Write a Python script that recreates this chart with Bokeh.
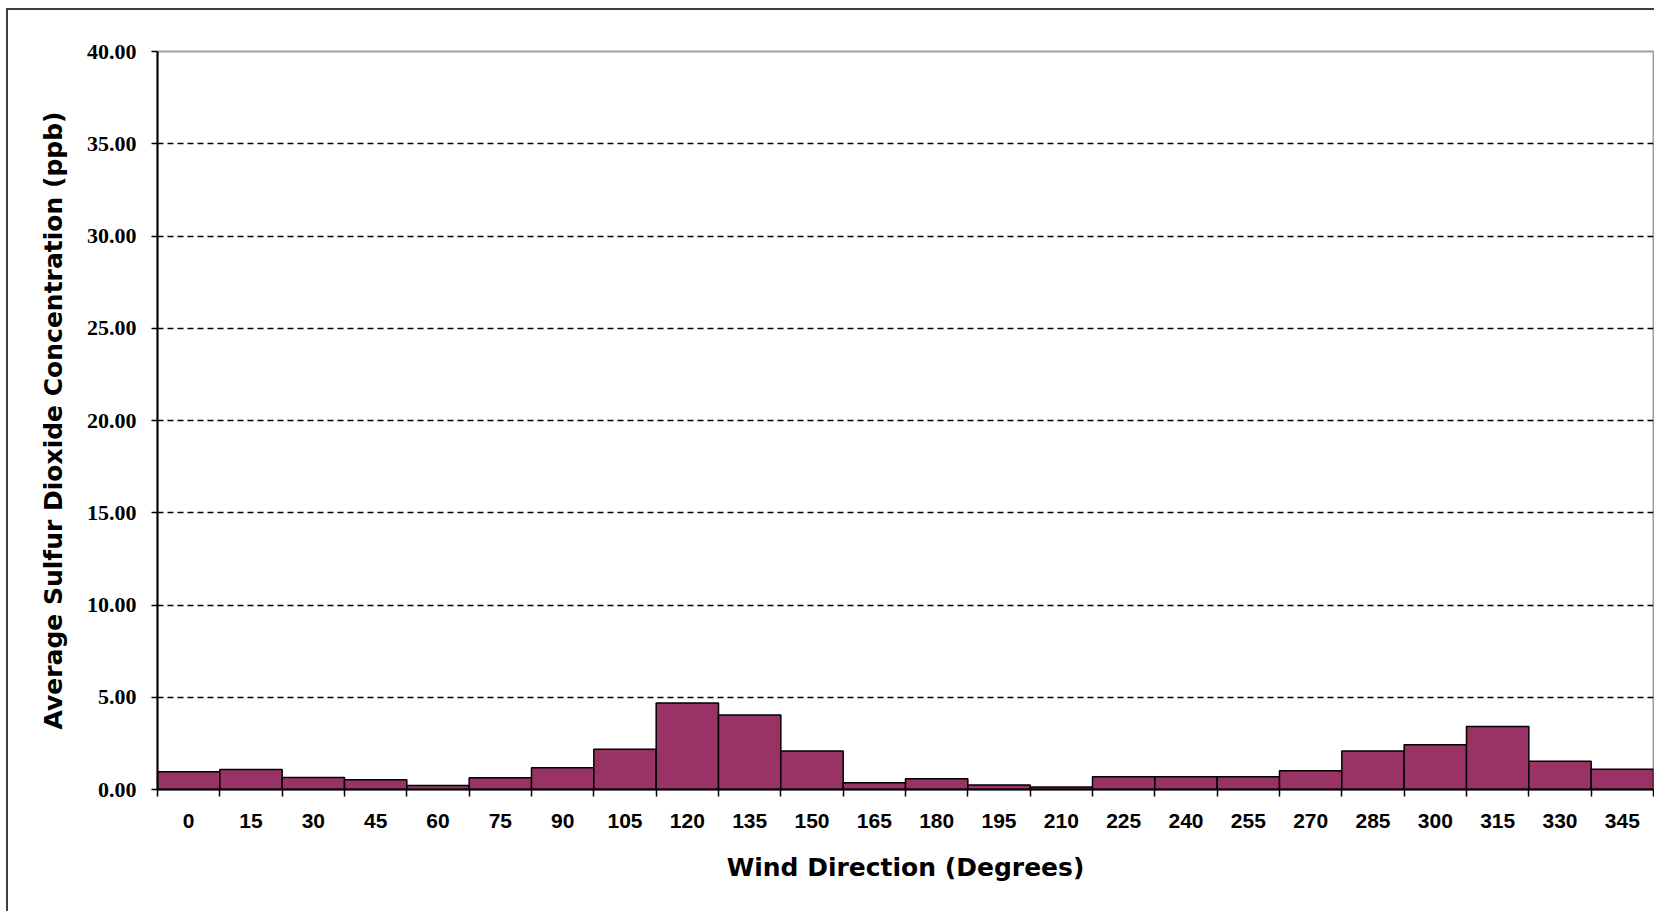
from bokeh.plotting import figure
from bokeh.models import FixedTicker, PrintfTickFormatter, Range1d
from bokeh.embed import file_html
from bokeh.resources import INLINE

# ---- data ----
directions = [0, 15, 30, 45, 60, 75, 90, 105, 120, 135, 150, 165,
              180, 195, 210, 225, 240, 255, 270, 285, 300, 315, 330, 345]
so2_ppb = [0.96, 1.09, 0.65, 0.53, 0.22, 0.64, 1.18, 2.18, 4.69, 4.04, 2.09, 0.36,
           0.58, 0.25, 0.14, 0.69, 0.69, 0.69, 1.01, 2.09, 2.42, 3.41, 1.53, 1.10]
y_ticks = [0, 5, 10, 15, 20, 25, 30, 35, 40]
bin_width = 15

half = bin_width / 2
bin_edges = [d - half for d in directions] + [directions[-1] + half]

p = figure(width=1648, height=903, output_backend="svg", toolbar_location=None,
           x_range=Range1d(bin_edges[0], bin_edges[-1]), y_range=Range1d(y_ticks[0], y_ticks[-1]),
           min_border_left=149, min_border_right=3, min_border_top=41, min_border_bottom=124)
p.styles = {"margin-left": "6px", "margin-top": "8px",
            "border-top": "2px solid #404040", "border-left": "2px solid #404040"}
p.background_fill_color = "white"
p.border_fill_color = "white"
p.outline_line_color = "#a0a0a0"
p.outline_line_width = 2

p.vbar(x=directions, top=so2_ppb, bottom=0, width=bin_width,
       fill_color="#993366", line_color="black", line_width=1.5)

# x axis
xa = p.xaxis[0]
xa.ticker = FixedTicker(ticks=directions, minor_ticks=bin_edges)
xa.major_tick_line_color = None
xa.major_tick_out = 0
xa.major_tick_in = 0
xa.minor_tick_out = 7
xa.minor_tick_in = 0
xa.minor_tick_line_color = "black"
xa.minor_tick_line_width = 1.5
xa.axis_line_color = "black"
xa.axis_line_width = 2
xa.major_label_text_font = "Liberation Sans"
xa.major_label_text_font_style = "bold"
xa.major_label_text_font_size = "21px"
xa.major_label_text_color = "black"
xa.major_label_standoff = 17
xa.axis_label = "Wind Direction (Degrees)"
xa.axis_label_text_font = "DejaVu Sans"
xa.axis_label_text_font_style = "bold"
xa.axis_label_text_font_size = "25px"
xa.axis_label_text_color = "black"
xa.axis_label_standoff = 22

# y axis
ya = p.yaxis[0]
ya.ticker = FixedTicker(ticks=y_ticks)
ya.formatter = PrintfTickFormatter(format="%.2f")
ya.major_tick_out = 6
ya.major_tick_in = 0
ya.minor_tick_line_color = None
ya.major_tick_line_color = "black"
ya.major_tick_line_width = 1.5
ya.axis_line_color = "black"
ya.axis_line_width = 2
ya.major_label_text_font = "Liberation Serif"
ya.major_label_text_font_style = "bold"
ya.major_label_text_font_size = "22px"
ya.major_label_text_color = "black"
ya.major_label_standoff = 15
ya.axis_label = "Average Sulfur Dioxide Concentration (ppb)"
ya.axis_label_text_font = "DejaVu Sans"
ya.axis_label_text_font_style = "bold"
ya.axis_label_text_font_size = "25px"
ya.axis_label_text_color = "black"
ya.axis_label_standoff = 16

# grid
p.xgrid.visible = False
p.ygrid.ticker = FixedTicker(ticks=y_ticks[1:-1])
p.ygrid.grid_line_color = "black"
p.ygrid.grid_line_dash = "6 4"
p.ygrid.grid_line_width = 1.5

open("out.html", "w").write(file_html(p, INLINE))
